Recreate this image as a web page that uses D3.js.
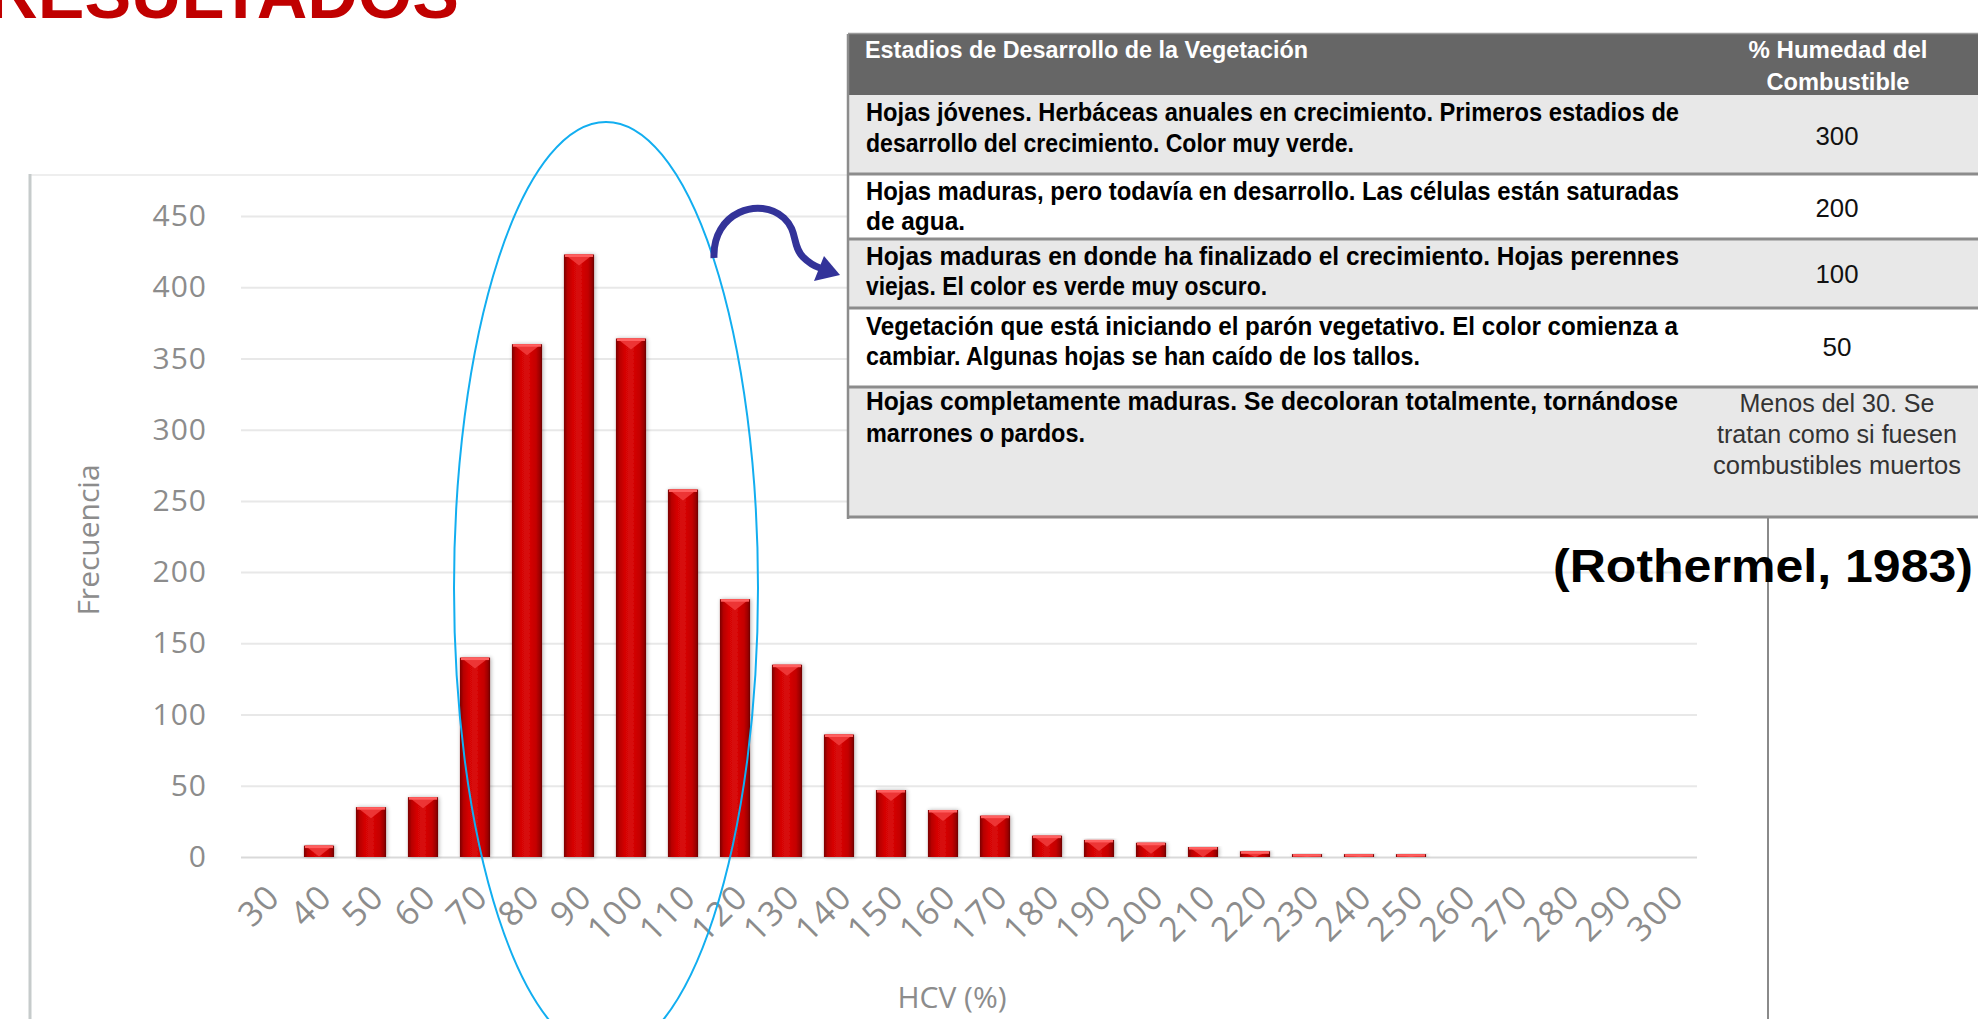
<!DOCTYPE html>
<html>
<head>
<meta charset="utf-8">
<script src="https://cdn.jsdelivr.net/npm/d3@7"></script>
<style>
  html, body { margin: 0; padding: 0; background: #ffffff; overflow: hidden; }
  svg { display: block; }
</style>
</head>
<body>
<svg id="chart" width="1978" height="1019"></svg>
<script>
// ---------------- DATA ----------------
const categories = [30, 40, 50, 60, 70, 80, 90, 100, 110, 120, 130, 140, 150, 160, 170, 180, 190, 200, 210, 220, 230, 240, 250, 260, 270, 280, 290, 300];
const frequencies = [0, 8, 35, 42, 140, 360, 423, 364, 258, 181, 135, 86, 47, 33, 29, 15, 12, 10, 7, 4, 2, 2, 2, 0, 0, 0, 0, 0];
const yTicks = [0, 50, 100, 150, 200, 250, 300, 350, 400, 450];

const titleText = "RESULTADOS";
const yAxisTitle = "Frecuencia";
const xAxisTitle = "HCV (%)";
const sourceText = "(Rothermel, 1983)";

const tableHeader = ["Estadios de Desarrollo de la Vegetación", ["% Humedad del", "Combustible"]];
const stageTexts = [
  ["Hojas jóvenes. Herbáceas anuales en crecimiento. Primeros estadios de", "desarrollo del crecimiento. Color muy verde."],
  ["Hojas maduras, pero todavía en desarrollo. Las células están saturadas", "de agua."],
  ["Hojas maduras en donde ha finalizado el crecimiento. Hojas perennes", "viejas. El color es verde muy oscuro."],
  ["Vegetación que está iniciando el parón vegetativo. El color comienza a", "cambiar. Algunas hojas se han caído de los tallos."],
  ["Hojas completamente maduras. Se decoloran totalmente, tornándose", "marrones o pardos."]
];
const moistureTexts = [["300"], ["200"], ["100"], ["50"], ["Menos del 30. Se", "tratan como si fuesen", "combustibles muertos"]];

// ---------------- LAYOUT ----------------
const svg = d3.select("#chart");
const W = 1978, H = 1019;
const plot = { left: 241, right: 1697, top: 216, bottom: 857 };

const chartFont = "'Open Sans', 'Segoe UI', 'Noto Sans', sans-serif";
const tableFont = "'Liberation Sans Narrow', 'Arial Narrow', 'Liberation Sans', Arial, sans-serif";

const defs = svg.append("defs");
const barGrad = defs.append("linearGradient").attr("id", "barGrad").attr("x1", "0").attr("x2", "1").attr("y1", "0").attr("y2", "0");
[[0, "#7a0000"], [0.12, "#b80000"], [0.3, "#d60606"], [0.55, "#d80808"], [0.8, "#c40000"], [0.93, "#9a0000"], [1, "#6a0000"]]
  .forEach(([o, c]) => barGrad.append("stop").attr("offset", o).attr("stop-color", c));
const shadow = defs.append("filter").attr("id", "barShadow").attr("x", "-30%").attr("y", "-10%").attr("width", "160%").attr("height", "120%");
shadow.append("feGaussianBlur").attr("in", "SourceAlpha").attr("stdDeviation", 2).attr("result", "b");
shadow.append("feOffset").attr("dx", 1).attr("dy", 0).attr("result", "o");
shadow.append("feComponentTransfer").append("feFuncA").attr("type", "linear").attr("slope", 0.3);
const m = shadow.append("feMerge"); m.append("feMergeNode"); m.append("feMergeNode").attr("in", "SourceGraphic");

// ---------------- CHART FRAME ----------------
svg.append("line").attr("x1", 30).attr("x2", 848).attr("y1", 175).attr("y2", 175).attr("stroke", "#eeeeee").attr("stroke-width", 2);
svg.append("line").attr("x1", 30).attr("x2", 30).attr("y1", 174).attr("y2", H).attr("stroke", "#c6cbcb").attr("stroke-width", 3);
svg.append("line").attr("x1", 1768).attr("x2", 1768).attr("y1", 515).attr("y2", H).attr("stroke", "#8a8a8a").attr("stroke-width", 2);

// ---------------- SCALES ----------------
const x = d3.scaleBand().domain(categories).range([plot.left, plot.right]).paddingInner(0.42).paddingOuter(0.21);
const y = d3.scaleLinear().domain([0, 450]).range([plot.bottom, plot.top]);

// y axis with gridlines
const yAxisG = svg.append("g").attr("transform", `translate(${plot.left},0)`)
  .call(d3.axisLeft(y).tickValues(yTicks).tickSize(-(plot.right - plot.left)).tickPadding(34));
yAxisG.select(".domain").remove();
yAxisG.selectAll(".tick line").attr("stroke", d => d === 0 ? "#d9d9d9" : "#e8e8e8").attr("stroke-width", 2);
yAxisG.selectAll(".tick text").attr("font-family", chartFont).attr("font-size", 30).attr("fill", "#8c8c8c")
  .attr("letter-spacing", 1);

// x axis
const xAxisG = svg.append("g").attr("transform", `translate(0,${plot.bottom})`)
  .call(d3.axisBottom(x).tickSize(0));
xAxisG.select(".domain").remove();
xAxisG.selectAll(".tick text")
  .attr("x", null).attr("y", null).attr("dy", null)
  .attr("transform", "translate(15,42) rotate(-45)")
  .attr("text-anchor", "end")
  .attr("letter-spacing", 1.5)
  .attr("font-family", chartFont).attr("font-size", 34).attr("fill", "#8c8c8c");

// ---------------- BARS ----------------
const barW = x.bandwidth();
const bars = svg.append("g").selectAll("g.bar").data(categories.map((c, i) => ({ c, v: frequencies[i] })).filter(d => d.v > 0))
  .join("g").attr("class", "bar");
bars.append("rect")
  .attr("x", d => x(d.c)).attr("y", d => y(d.v))
  .attr("width", barW).attr("height", d => y(0) - y(d.v))
  .attr("fill", "url(#barGrad)").attr("filter", "url(#barShadow)");
bars.append("path")
  .attr("d", d => {
    const x0 = x(d.c), x1 = x0 + barW, yt = y(d.v);
    const depth = Math.min(11, (y(0) - yt));
    return `M${x0 + 1},${yt} L${x1 - 1},${yt} L${(x0 + x1) / 2},${yt + depth} Z`;
  })
  .attr("fill", "#f03a3a").attr("opacity", 0.9);
bars.append("rect")
  .attr("x", d => x(d.c) + 1).attr("y", d => y(d.v))
  .attr("width", barW - 2).attr("height", d => Math.min(2.5, y(0) - y(d.v)))
  .attr("fill", "#ff6060");

// ---------------- AXIS TITLES ----------------
svg.append("text").attr("transform", "translate(99,540) rotate(-90)")
  .attr("text-anchor", "middle").attr("font-family", chartFont).attr("font-size", 30).attr("fill", "#8c8c8c")
  .text(yAxisTitle);
svg.append("text").attr("x", 952).attr("y", 1008)
  .attr("text-anchor", "middle").attr("font-family", chartFont).attr("font-size", 30).attr("fill", "#8c8c8c")
  .text(xAxisTitle);

// ---------------- TITLE ----------------
svg.append("text").attr("x", 459).attr("y", 18).attr("text-anchor", "end")
  .attr("font-family", "'Liberation Sans', Arial, sans-serif").attr("font-weight", "bold").attr("font-size", 70)
  .attr("fill", "#c00000").text(titleText);

// ---------------- ANNOTATIONS ----------------
svg.append("ellipse").attr("cx", 606).attr("cy", 588).attr("rx", 152).attr("ry", 466)
  .attr("fill", "none").attr("stroke", "#12aef0").attr("stroke-width", 2);

svg.append("path")
  .attr("d", "M714,258 C712,212 760,196 784,218 C798,231 792,246 803,257 C809,263 814,266 820,268")
  .attr("fill", "none").attr("stroke", "#333399").attr("stroke-width", 7);
svg.append("path").attr("d", "M840,275 L814,281 L824,256 Z").attr("fill", "#333399");

// ---------------- TABLE ----------------
const tX0 = 848, tX1 = 1990;
const headerRow = { y0: 34, y1: 95 };
const rowBounds = [[95, 174], [174, 239], [239, 308], [308, 387], [387, 517]];
const rowFill = ["#e8e8e8", "#ffffff", "#e8e8e8", "#ffffff", "#e8e8e8"];
const stageBaselines = [[121, 152], [200, 230], [265, 295], [335, 365], [410, 442]];
const stageLengths = [[813, 488], [813, 99], [813, 401], [812, 554], [812, 219]];
const moistBaselines = [[145], [217], [283], [356], [412, 443, 474]];
const moistLengths = [[43], [43], [43], [29], [195, 240, 248]];

const tbl = svg.append("g");
tbl.append("rect").attr("x", tX0).attr("y", headerRow.y0).attr("width", tX1 - tX0).attr("height", headerRow.y1 - headerRow.y0).attr("fill", "#666666");
tbl.append("line").attr("x1", tX0).attr("x2", tX1).attr("y1", 33.5).attr("y2", 33.5).attr("stroke", "#9a9a9a").attr("stroke-width", 1.5);
tbl.selectAll("rect.row").data(rowBounds).join("rect").attr("class", "row")
  .attr("x", tX0).attr("y", d => d[0]).attr("width", tX1 - tX0).attr("height", d => d[1] - d[0])
  .attr("fill", (d, i) => rowFill[i]);
tbl.selectAll("line.sep").data(rowBounds).join("line").attr("class", "sep")
  .attr("x1", tX0).attr("x2", tX1).attr("y1", d => d[1]).attr("y2", d => d[1])
  .attr("stroke", "#8c8c8c").attr("stroke-width", 3);
tbl.append("line").attr("x1", tX0).attr("x2", tX0).attr("y1", 34).attr("y2", 519).attr("stroke", "#8c8c8c").attr("stroke-width", 2.5);

// header text
tbl.append("text").attr("x", 865).attr("y", 58)
  .attr("font-family", tableFont).attr("font-weight", "bold").attr("font-size", 24).attr("fill", "#ffffff")
  .attr("textLength", 443).attr("lengthAdjust", "spacingAndGlyphs").text(tableHeader[0]);
tbl.selectAll("text.h2").data(tableHeader[1]).join("text").attr("class", "h2")
  .attr("x", 1838).attr("y", (d, i) => 58 + i * 32).attr("text-anchor", "middle")
  .attr("font-family", tableFont).attr("font-weight", "bold").attr("font-size", 24).attr("fill", "#ffffff")
  .attr("textLength", (d, i) => [179, 143][i]).attr("lengthAdjust", "spacingAndGlyphs").text(d => d);

// stage texts
stageTexts.forEach((lines, r) => {
  lines.forEach((t, k) => {
    tbl.append("text").attr("x", 866).attr("y", stageBaselines[r][k])
      .attr("font-family", tableFont).attr("font-weight", "bold").attr("font-size", 25).attr("fill", "#000000")
      .attr("textLength", stageLengths[r][k]).attr("lengthAdjust", "spacingAndGlyphs").text(t);
  });
  moistureTexts[r].forEach((t, k) => {
    tbl.append("text").attr("x", 1837).attr("y", moistBaselines[r][k]).attr("text-anchor", "middle")
      .attr("font-family", tableFont).attr("font-size", 25).attr("fill", r === 4 ? "#333333" : "#111111")
      .attr("textLength", moistLengths[r][k]).attr("lengthAdjust", "spacingAndGlyphs").text(t);
  });
});

// source
svg.append("text").attr("x", 1553).attr("y", 582)
  .attr("font-family", "'Liberation Sans', Arial, sans-serif").attr("font-weight", "bold").attr("font-size", 46).attr("fill", "#000000")
  .attr("textLength", 420).attr("lengthAdjust", "spacingAndGlyphs").text(sourceText);
</script>
</body>
</html>
